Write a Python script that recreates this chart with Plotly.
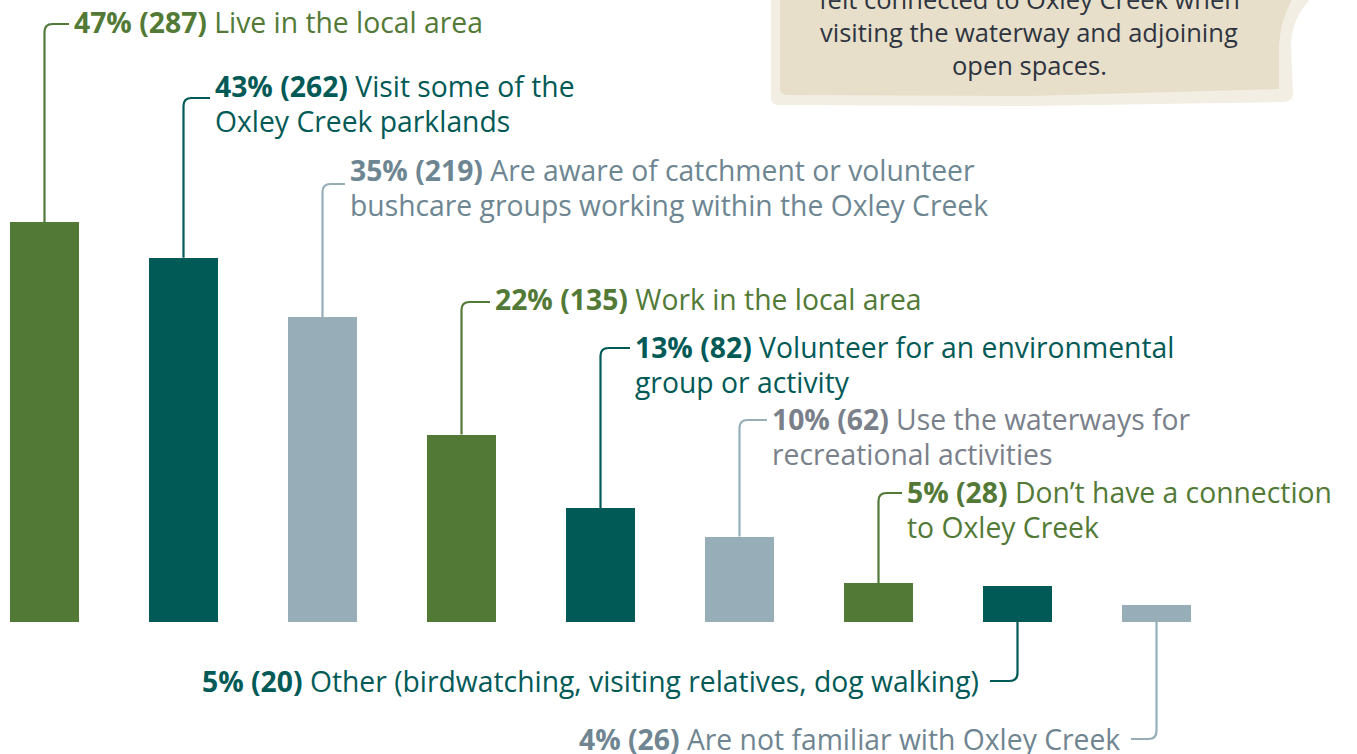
import plotly.graph_objects as go

# ---------------- data ----------------
categories = [
    "Live in the local area",
    "Visit some of the Oxley Creek parklands",
    "Are aware of catchment or volunteer bushcare groups working within the Oxley Creek",
    "Work in the local area",
    "Volunteer for an environmental group or activity",
    "Use the waterways for recreational activities",
    "Don\u2019t have a connection to Oxley Creek",
    "Other (birdwatching, visiting relatives, dog walking)",
    "Are not familiar with Oxley Creek",
]
percent_labels = [47, 43, 35, 22, 13, 10, 5, 5, 4]
counts = [287, 262, 219, 135, 82, 62, 28, 20, 26]
bar_values = [47.0, 42.8, 35.8, 22.0, 13.3, 10.0, 4.5, 4.2, 2.0]  # bar heights
label_lines = [
    ["Live in the local area"],
    ["Visit some of the", "Oxley Creek parklands"],
    ["Are aware of catchment or volunteer", "bushcare groups working within the Oxley Creek"],
    ["Work in the local area"],
    ["Volunteer for an environmental", "group or activity"],
    ["Use the waterways for", "recreational activities"],
    ["Don\u2019t have a connection", "to Oxley Creek"],
    ["Other (birdwatching, visiting relatives, dog walking)"],
    ["Are not familiar with Oxley Creek"],
]
callout_lines = ["felt connected to Oxley Creek when",
                 "visiting the waterway and adjoining",
                 "open spaces."]

# ---------------- styling ----------------
GREEN, TEAL, LBLUE = "#527a36", "#025a57", "#97aeb9"
bar_colors = [GREEN, TEAL, LBLUE] * 3
text_colors = [GREEN, TEAL, "#6d8692", GREEN, TEAL, "#7a808a", GREEN, TEAL, "#6f8591"]
FONT = "Open Sans"
FS = 28.3
FS_CALLOUT = 25.5

W, H = 1357, 754
BASE_PX, PX_PER_UNIT = 621.5, 8.5
X0_PX, STEP_PX = 44.5, 139.0

def px_to_x(px):
    return (px - X0_PX) / STEP_PX

def py_to_y(py):
    return (BASE_PX - py) / PX_PER_UNIT

x_range = [px_to_x(0), px_to_x(W)]
y_range = [py_to_y(H), py_to_y(0)]

# label layout (pixel positions): (horizontal-line y, text x, direction)
label_layout = [
    (24, 72, "up"), (98, 213, "up"), (184, 348, "up"), (302, 493, "up"),
    (348, 633, "up"), (420, 770, "up"), (493, 905, "up"),
    (681, 981, "down"), (739, 1122, "down"),
]
text_mid = [22, 86, 170, 299, 347, 419, 492, 681, 739]
LINE_GAP = 35

fig = go.Figure()
xs = list(range(len(categories)))
fig.add_trace(go.Bar(
    x=xs, y=bar_values, marker=dict(color=bar_colors, line=dict(width=0)),
    width=69 / STEP_PX, hoverinfo="skip", showlegend=False,
))

shapes = []
annotations = []
rx = 8 / STEP_PX
ry = 8 / PX_PER_UNIT
for i, (hy_px, tx_px, d) in enumerate(label_layout):
    xc = xs[i]
    hy = py_to_y(hy_px)
    col = bar_colors[i]
    if d == "up":
        y0 = bar_values[i]
        xend = px_to_x(tx_px - 3)
        path = (f"M {xc},{y0} L {xc},{hy - ry} Q {xc},{hy} {xc + rx},{hy} L {xend},{hy}")
    else:
        y0 = 0
        xend = px_to_x(tx_px + 9)
        path = (f"M {xc},{y0} L {xc},{hy + ry} Q {xc},{hy} {xc - rx},{hy} L {xend},{hy}")
    shapes.append(dict(type="path", path=path, xref="x", yref="y",
                       line=dict(color=col, width=2.2), layer="below"))
    lines = label_lines[i]
    for j, ln in enumerate(lines):
        txt = ln
        if j == 0:
            txt = f"<b>{percent_labels[i]}% ({counts[i]})</b> {ln}"
        annotations.append(dict(
            x=px_to_x(tx_px), y=py_to_y(text_mid[i] + j * LINE_GAP), xref="x", yref="y",
            text=txt, showarrow=False,
            xanchor="left" if d == "up" else "right", yanchor="middle",
            font=dict(family=FONT, size=FS, color=text_colors[i]),
        ))

# callout box (paper coords from pixels)
def pp(px, py):
    return f"{px / W:.5f},{1 - py / H:.5f}"

outer = (f"M {pp(771,-20)} L {pp(771,98)} Q {pp(771,105)} {pp(779,105)} "
         f"L {pp(1030,106)} L {pp(1285,102)} Q {pp(1293,101)} {pp(1293,93)} "
         f"L {pp(1291,45)} Q {pp(1292,5)} {pp(1335,-20)} Z")
inner = (f"M {pp(780,-20)} L {pp(780,90)} Q {pp(781,95)} {pp(788,95)} "
         f"L {pp(1030,96)} L {pp(1279,89)} L {pp(1279,45)} Q {pp(1281,10)} {pp(1305,-20)} Z")
shapes.append(dict(type="path", path=outer, xref="paper", yref="paper",
                   fillcolor="#f2eee3", line=dict(width=0), layer="below"))
shapes.append(dict(type="path", path=inner, xref="paper", yref="paper",
                   fillcolor="#e7dfca", line=dict(width=0), layer="below"))
for j, ln in enumerate(callout_lines):
    annotations.append(dict(
        x=1029 / W, y=1 - (-1 + j * 33) / H, xref="paper", yref="paper",
        text=ln, showarrow=False, xanchor="center", yanchor="middle",
        font=dict(family=FONT, size=FS_CALLOUT, color="#2e3440"),
    ))

fig.update_layout(
    width=W, height=H, margin=dict(l=0, r=0, t=0, b=0),
    paper_bgcolor="white", plot_bgcolor="white",
    xaxis=dict(range=x_range, visible=False, fixedrange=True),
    yaxis=dict(range=y_range, visible=False, fixedrange=True),
    shapes=shapes, annotations=annotations, bargap=0,
)
fig.write_html("out.html", config={"displayModeBar": False},
               post_script="document.body.style.margin='0';document.body.style.overflow='hidden';")
